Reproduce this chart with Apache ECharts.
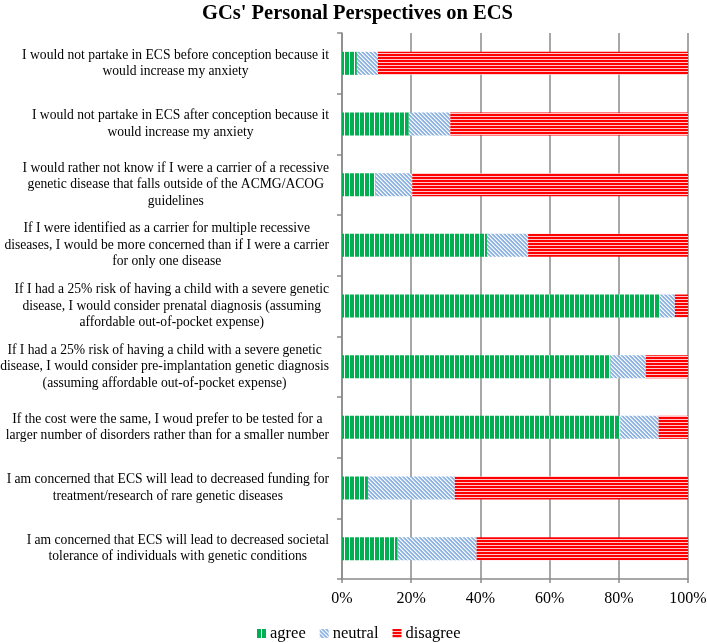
<!DOCTYPE html>
<html>
<head>
<meta charset="utf-8">
<script src="https://cdn.jsdelivr.net/npm/echarts@6/dist/echarts.min.js"></script>
<style>
html,body{margin:0;padding:0;background:#fff;}
#chart{width:707px;height:643px;}
</style>
</head>
<body>
<div id="chart"></div>
<script>
const categories = [
  "I would not partake in ECS before conception because it\nwould increase my anxiety",
  "I would not partake in ECS after conception because it\nwould increase my anxiety",
  "I would rather not know if I were a carrier of a recessive\ngenetic disease that falls outside of the ACMG/ACOG\nguidelines",
  "If I were identified as a carrier for multiple recessive\ndiseases, I would be more concerned than if I were a carrier\nfor only one disease",
  "If I had a 25% risk of having a child with a severe genetic\ndisease, I would consider prenatal diagnosis (assuming\naffordable out-of-pocket expense)",
  "If I had a 25% risk of having a child with a severe genetic\ndisease, I would consider pre-implantation genetic diagnosis\n(assuming affordable out-of-pocket expense)",
  "If the cost were the same, I woud prefer to be tested for a\nlarger number of disorders rather than for a smaller number",
  "I am concerned that ECS will lead to decreased funding for\ntreatment/research of rare genetic diseases",
  "I am concerned that ECS will lead to decreased societal\ntolerance of individuals with genetic conditions"
];
const agree    = [4.3, 19.3, 9.7, 41.9, 91.8, 77.6, 80.4, 7.5, 16.1];
const neutral  = [6.1, 12.0, 10.6, 11.9, 4.4, 10.2, 11.1, 25.1, 22.8];
const disagree = [89.6, 68.7, 79.7, 46.2, 3.8, 12.2, 8.5, 67.4, 61.1];
const seriesNames = ["agree", "neutral", "disagree"];
const xTickLabels = ["0%", "20%", "40%", "60%", "80%", "100%"];

function makePattern(w, h, draw) {
  const c = document.createElement('canvas');
  c.width = w; c.height = h;
  const ctx = c.getContext('2d');
  draw(ctx);
  return { image: c, repeat: 'repeat' };
}
const agreePattern = makePattern(5, 1, ctx => {
  ctx.fillStyle = '#00B050'; ctx.fillRect(0, 0, 5, 1);
  ctx.fillStyle = '#ffffff'; ctx.fillRect(4, 0, 1, 1);
});
const neutralPattern = makePattern(4, 4, ctx => {
  ctx.fillStyle = '#8DB4E2'; ctx.fillRect(0, 0, 4, 4);
  for (let y = 0; y < 4; y++) {
    ctx.fillStyle = '#ffffff'; ctx.fillRect((y) % 4, y, 1, 1);
    ctx.fillStyle = '#c6d9f0'; ctx.fillRect((y + 1) % 4, y, 1, 1);
  }
});
const disagreePattern = makePattern(1, 3, ctx => {
  ctx.fillStyle = '#FF0000'; ctx.fillRect(0, 0, 1, 3);
  ctx.fillStyle = '#ffc8c8'; ctx.fillRect(0, 2, 1, 1);
});
const patterns = [agreePattern, neutralPattern, disagreePattern];
const values = [agree, neutral, disagree];

const serif = '"Liberation Serif", "Times New Roman", serif';
const chart = echarts.init(document.getElementById('chart'), null, { renderer: 'canvas' });
chart.setOption({
  animation: false,
  backgroundColor: '#ffffff',
  title: {
    text: "GCs' Personal Perspectives on ECS",
    left: 202, top: 3, padding: 0,
    textStyle: { fontFamily: serif, fontWeight: 'bold', fontSize: 20.5, color: '#000' }
  },
  legend: {
    data: seriesNames,
    left: 257, top: 625, padding: 0,
    icon: 'rect',
    itemWidth: 9, itemHeight: 9, itemGap: 14,
    textStyle: { fontFamily: serif, fontSize: 16.5, color: '#000', padding: [0, 0, 0, -1] }
  },
  grid: { left: 342, right: 19, top: 33, bottom: 64, containLabel: false, outerBoundsMode: 'none' },
  xAxis: {
    type: 'value', min: 0, max: 100, interval: 20,
    axisLine: { show: true, lineStyle: { color: '#8a8a8a', width: 1.5 } },
    axisTick: { show: true, length: 4, lineStyle: { color: '#8a8a8a', width: 1.5 } },
    splitLine: { show: true, lineStyle: { color: '#8a8a8a', width: 1.5 } },
    axisLabel: {
      margin: 12,
      formatter: v => xTickLabels[Math.round(v / 20)],
      fontFamily: serif, fontSize: 16, color: '#000'
    }
  },
  yAxis: {
    type: 'category', data: categories, inverse: true,
    axisLine: { show: true, lineStyle: { color: '#8a8a8a', width: 1.5 } },
    axisTick: { show: true, length: 5, lineStyle: { color: '#8a8a8a', width: 1.5 } },
    splitLine: { show: false },
    axisLabel: {
      margin: 13, align: 'right',
      formatter: v => v.split('\n').map(l => '{c|' + l + '}').join('\n'),
      rich: { c: { align: 'center', fontFamily: serif, fontSize: 13.6, lineHeight: 16.5, color: '#000' } }
    }
  },
  series: seriesNames.map((n, i) => ({
    name: n, type: 'bar', stack: 'total', barWidth: 23,
    itemStyle: { color: patterns[i] },
    data: values[i]
  }))
});
</script>
</body>
</html>
